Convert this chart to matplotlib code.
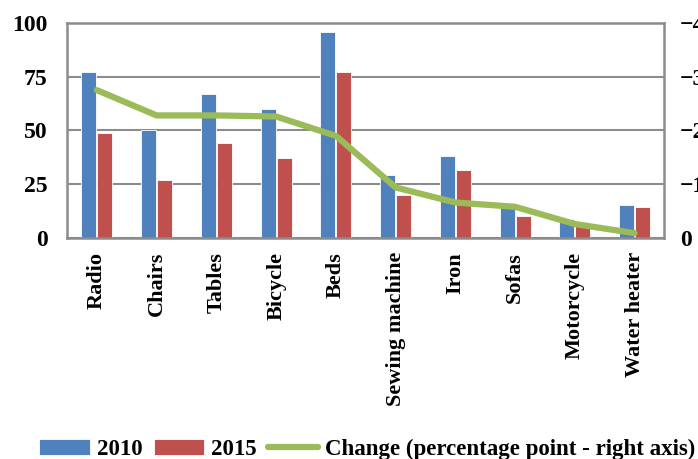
import matplotlib
matplotlib.use("Agg")
import matplotlib.pyplot as plt
import numpy as np

# ownership of household items (%), 2010 vs 2015
items = ["Radio", "Chairs", "Tables", "Bicycle", "Beds", "Sewing machine",
         "Iron", "Sofas", "Motorcycle", "Water heater"]
own_2010 = [77, 50, 67, 60, 96, 29.5, 38, 16.3, 8.8, 15.3]
own_2015 = [49, 27, 44, 37, 77, 20, 31.5, 10.2, 6, 14.4]
change = [-27.5, -22.8, -22.8, -22.6, -19, -9.4, -6.6, -5.8, -2.6, -0.9]

left_ticks = [0, 25, 50, 75, 100]
right_ticks = [0, -10, -20, -30, -40]

plt.rcParams["font.family"] = ["Liberation Serif", "DejaVu Serif"]
plt.rcParams["font.weight"] = "bold"

BLUE = "#4F81BD"
RED = "#C0504D"
GREEN = "#9BBB59"
GRID = "#8C8C8C"

fig = plt.figure(figsize=(6.98, 4.59), dpi=100)
ax = fig.add_axes([0.096, 0.4815, 0.856, 0.4685])

x = np.arange(len(items))
w = 0.25
b1 = ax.bar(x - 0.135, own_2010, w, color=BLUE, edgecolor="white", linewidth=0.6,
            label="2010", zorder=2)
b2 = ax.bar(x + 0.135, own_2015, w, color=RED, edgecolor="white", linewidth=0.6,
            label="2015", zorder=2)

ax.set_xlim(-0.5, len(items) - 0.5)
ax.set_ylim(0, 100)
ax.set_yticks(left_ticks)
ax.grid(axis="y", color=GRID, linewidth=1.5, zorder=0)
ax.set_axisbelow(True)
for s in ax.spines.values():
    s.set_color(GRID)
    s.set_linewidth(1.8)
ax.tick_params(axis="y", length=0, pad=14, labelsize=17)
ax.tick_params(axis="x", length=0, pad=10, labelsize=16)
ax.set_xticks(x)
ax.set_xticklabels(items, rotation=90, va="top", ha="center")

# change on the right axis, inverted so that 0 sits at the bottom
ax2 = ax.twinx()
ax2.set_ylim(0, -40)
ax2.set_yticks(right_ticks)
ax2.tick_params(axis="y", length=0, pad=11, labelsize=17)
for s in ax2.spines.values():
    s.set_visible(False)
ln, = ax2.plot(x, change, color=GREEN, linewidth=4.5, solid_capstyle="round",
               label="Change (percentage point - right axis)", zorder=3)

fig.legend(handles=[b1, b2, ln], loc="lower right", bbox_to_anchor=(1.026, -0.047),
           ncol=3, frameon=False, fontsize=16.5, handlelength=2.2,
           handletextpad=0.3, columnspacing=0.5)

plt.savefig("out.png", dpi=100)
plt.close()
